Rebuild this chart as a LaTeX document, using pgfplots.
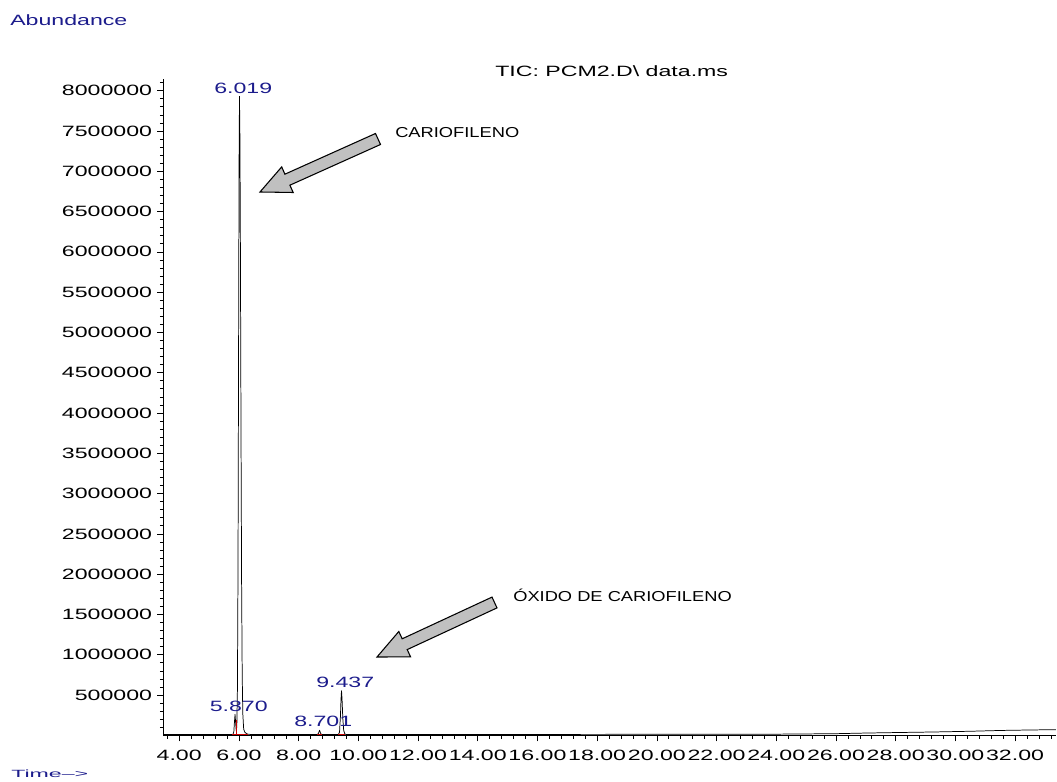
\documentclass[border=0pt]{standalone}
\usepackage{fontspec}
\setmainfont[FakeStretch=1.55]{Liberation Sans}
\newfontfamily\annfont[FakeStretch=1.27]{Liberation Sans}
\usepackage{pgfplots}
\pgfplotsset{compat=1.18}

\definecolor{lblblue}{RGB}{28,28,140}
\definecolor{intred}{RGB}{200,0,0}
\definecolor{arrowgray}{RGB}{192,192,192}

\begin{document}
\fontsize{11.2}{13.4}\selectfont
\begin{tikzpicture}
\useasboundingbox (0,0) rectangle (792.75pt,586.5pt);
\begin{axis}[
  at={(122.475pt,35.025pt)}, anchor=south west,
  scale only axis, width=669.5pt, height=492.2pt,
  xmin=3.467, xmax=33.37, ymin=0, ymax=8145000,
  axis x line=bottom, axis y line=left,
  axis line style={-, line width=0.6pt},
  tick align=outside,
  major tick length=4.5pt, minor tick length=2.6pt,
  every tick/.style={black, line width=0.5pt},
  xtick={4,6,...,32},
  minor xtick={3.6,4.0,...,33.2},
  ytick={500000,1000000,...,8000000},
  minor ytick={100000,200000,...,8100000},
  scaled ticks=false,
  /pgf/number format/assume math mode=true,
  xticklabel style={yshift=-2.5pt, /pgf/number format/.cd, fixed, fixed zerofill, precision=2},
  yticklabel style={/pgf/number format/.cd, fixed, 1000 sep={}},
  tick label style={font=\fontsize{11.2}{13.4}\selectfont},
  clip=false,
]
% total ion chromatogram
\addplot[black, line width=0.55pt, line join=round] coordinates {
  (3.467,10000) (5.00,10000) (5.70,10000) (5.80,11000)
  (5.83,45000) (5.85,162000) (5.87,260000) (5.89,162000)
  (5.91,55000) (5.93,110000) (5.95,573000) (5.97,2090000)
  (5.99,4970000) (6.005,7110000) (6.019,7930000) (6.035,7380000)
  (6.05,6040000) (6.07,3790000) (6.09,1900000) (6.11,758000)
  (6.13,270000) (6.16,75000) (6.20,38000) (6.25,22000)
  (6.30,14000) (6.40,10000)
  (8.62,10000) (8.66,20000) (8.68,40000) (8.701,62000)
  (8.72,42000) (8.74,20000) (8.78,10000)
  (9.33,10000) (9.37,38000) (9.40,230000) (9.42,450000)
  (9.437,553000) (9.455,450000) (9.48,210000) (9.51,60000)
  (9.55,15000) (9.60,10000)
  (12,10000) (16,11000) (20,12000) (24,14000) (26,20000)
  (27,28000) (28,34000) (29.25,41000) (30.5,50000)
  (31.5,60000) (32.5,66000) (33.37,70000)
};
% integration baselines and drop line
\addplot[intred, line width=0.6pt] coordinates {(5.78,10000) (6.30,10000)};
\addplot[intred, line width=0.6pt] coordinates {(5.905,10000) (5.905,190000)};
\addplot[intred, line width=0.6pt] coordinates {(8.63,10000) (8.77,10000)};
\addplot[intred, line width=0.6pt] coordinates {(9.33,10000) (9.55,10000)};
% retention time labels
\begin{scope}[every node/.style={lblblue, anchor=base, inner sep=0pt, yshift=2.5pt, xshift=2.8pt}]
\node at (axis cs:6.019,7930000) {6.019};
\node at (axis cs:5.870,260000) {5.870};
\node at (axis cs:9.437,553000) {9.437};
\node at (axis cs:8.701,62000) {8.701};
\end{scope}
\end{axis}
\begin{scope}[shift={(0pt,586.5pt)}, x=0.75pt, y=-0.75pt]
\node[lblblue, anchor=base west, inner sep=0pt] at (10,26) {Abundance};
\node[lblblue, anchor=base west, inner sep=0pt] at (11,778) {\scalebox{1}[0.7]{Time-->}};
\node[black, anchor=base west, inner sep=0pt] at (495,76.7) {TIC: PCM2.D\textbackslash{} data.ms};
\node[black, anchor=base west, inner sep=0pt, font=\annfont\fontsize{10.8}{12}\selectfont] at (395,138) {CARIOFILENO};
\node[black, anchor=base west, inner sep=0pt, font=\annfont\fontsize{10.8}{12}\selectfont] at (513,602) {ÓXIDO DE CARIOFILENO};
% block arrows
\draw[fill=arrowgray, line width=0.8pt, line join=miter]
  (375.5,133.5) -- (284.9,174.2) -- (281.7,166.9) -- (260,192)
  -- (293.2,192.5) -- (289.9,185.2) -- (380.5,144.5) -- cycle;
\draw[fill=arrowgray, line width=0.8pt, line join=miter]
  (492.0,597.1) -- (402.2,638.8) -- (398.8,631.5) -- (377,657)
  -- (410.6,656.9) -- (407.2,649.6) -- (497.0,607.9) -- cycle;
\end{scope}
\end{tikzpicture}
\end{document}
